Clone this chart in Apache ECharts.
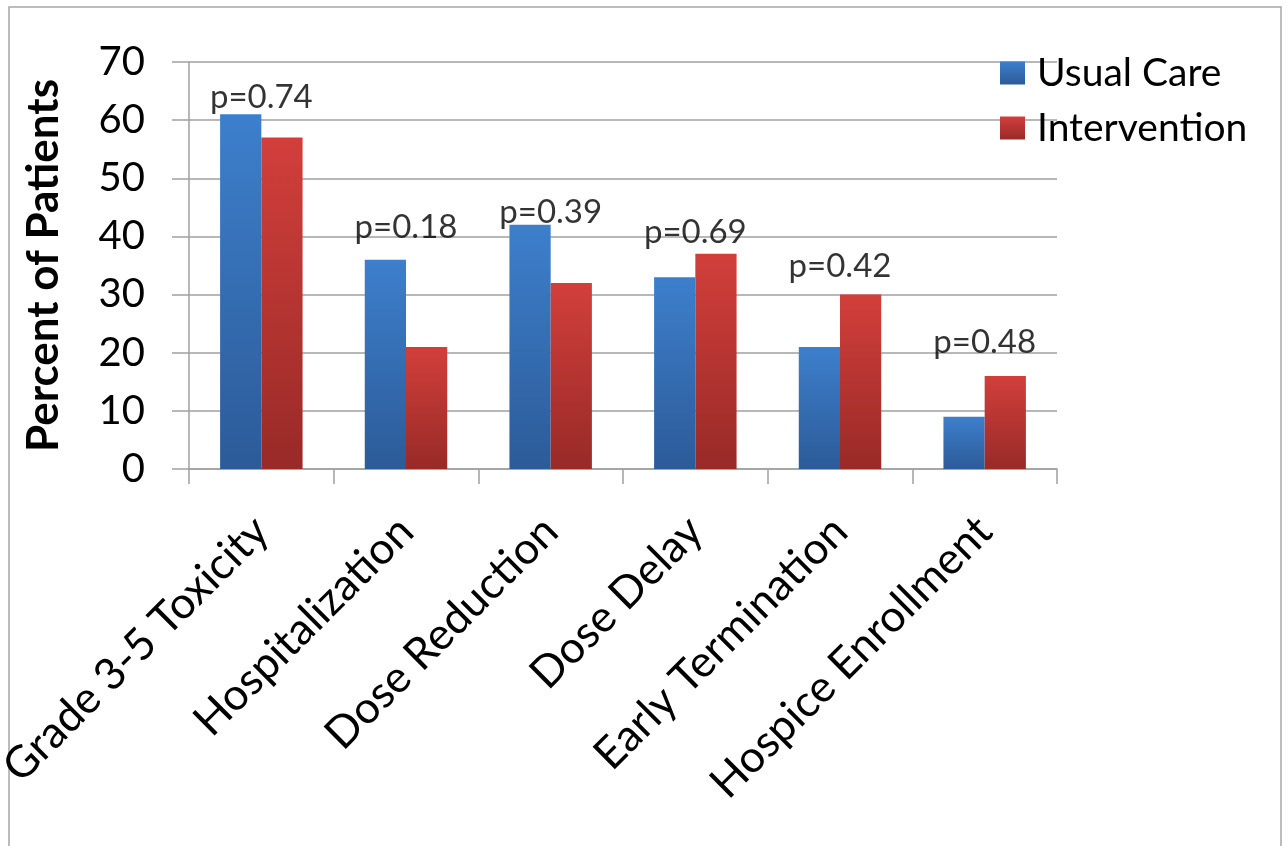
<!DOCTYPE html>
<html>
<head>
<meta charset="utf-8">
<script src="https://cdn.jsdelivr.net/npm/echarts@6/dist/echarts.min.js"></script>
<style>
html,body{margin:0;padding:0;background:#fff;}
#c{width:1286px;height:846px;}
</style>
</head>
<body>
<div id="c"></div>
<script>
const categories = ['Grade 3-5 Toxicity','Hospitalization','Dose Reduction','Dose Delay','Early Termination','Hospice Enrollment'];
const usualCare = [61, 36, 42, 33, 21, 9];
const intervention = [57, 21, 32, 37, 30, 16];
const pValues = ['p=0.74','p=0.18','p=0.39','p=0.69','p=0.42','p=0.48'];
// vertical level (in percent units) where each p-value annotation sits
const pLevels = [63.9, 41.6, 44.2, 40.7, 34.9, 21.8];
const yTicks = [0, 10, 20, 30, 40, 50, 60, 70];

const FONT = 'Lato';
const chart = echarts.init(document.getElementById('c'), null, {renderer:'canvas'});
const grad = (a,b) => new echarts.graphic.LinearGradient(0,0,0,1,[{offset:0,color:a},{offset:1,color:b}]);

chart.setOption({
  backgroundColor:'#fff',
  animation:false,
  graphic:[{type:'rect',shape:{x:9,y:7,width:1272,height:860},style:{fill:'none',stroke:'#a6a6a6',lineWidth:1.5},silent:true}],
  grid:{left:189,right:229,top:62,bottom:377,containLabel:false,outerBoundsMode:'none'},
  legend:{
    orient:'vertical', left:995, top:48, itemWidth:25, itemHeight:23, itemGap:15, itemTextGap:12,
    icon:'rect',
    textStyle:{fontFamily:FONT,fontSize:39,color:'#000',lineHeight:40,padding:[0,0,0,7]},
    data:['Usual Care','Intervention']
  },
  xAxis:{
    type:'category', data:categories,
    axisLine:{lineStyle:{color:'#a0a0a0',width:1.5}},
    axisTick:{show:true,length:15,lineStyle:{color:'#a0a0a0',width:1.5}},
    axisLabel:{rotate:45,fontFamily:FONT,fontSize:44,color:'#000',margin:55,interval:0}
  },
  yAxis:{
    type:'value', min:yTicks[0], max:yTicks[yTicks.length-1], interval:10,
    name:'Percent of Patients', nameLocation:'middle', nameGap:123, nameRotate:90,
    nameTextStyle:{fontFamily:FONT,fontSize:44,fontWeight:'bold',color:'#000'},
    axisLine:{show:true,lineStyle:{color:'#a0a0a0',width:1.5}},
    axisTick:{show:true,length:17,lineStyle:{color:'#a0a0a0',width:1.5}},
    axisLabel:{fontFamily:FONT,fontSize:40,color:'#000',margin:44},
    splitLine:{lineStyle:{color:'#a0a0a0',width:1.5}}
  },
  series:[
    {name:'Usual Care',type:'bar',data:usualCare,barGap:'0%',barCategoryGap:'43%',
     itemStyle:{color:grad('#3d7fcc','#2c5b98')}},
    {name:'Intervention',type:'bar',data:intervention,barGap:'0%',barCategoryGap:'43%',
     itemStyle:{color:grad('#d23f3b','#982a27')}},
    {name:'p',type:'scatter',data:pLevels,symbolSize:0,silent:true,
     label:{show:true,position:'inside',formatter:p=>pValues[p.dataIndex],fontFamily:FONT,fontSize:33,color:'#000'}}
  ]
});
</script>
</body>
</html>
